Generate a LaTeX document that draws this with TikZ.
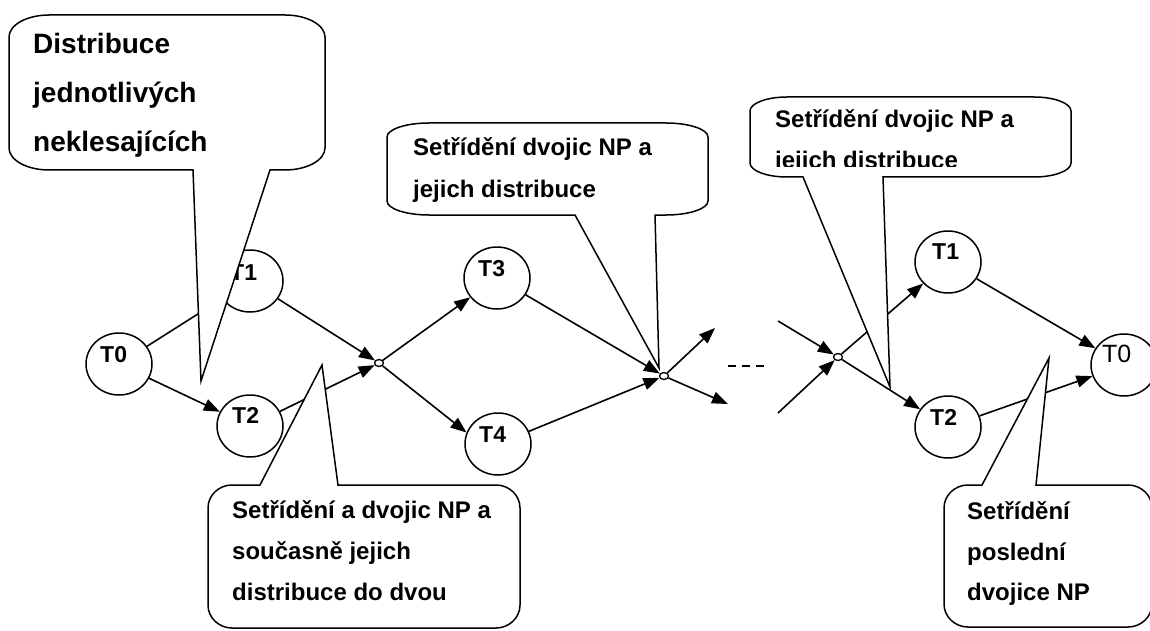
\documentclass[tikz,border=0pt]{standalone}
\usepackage{fontspec}
\setmainfont{Liberation Sans}
\usetikzlibrary{shapes.geometric,arrows.meta}

% rounded callout, tail on the bottom edge:
% #1 x1, #2 y1, #3 x2, #4 y2, #5 rx, #6 ry, #7 tail base left, #8 tail base right, #9 tip
\newcommand\calloutbelow[9]{%
  \filldraw[cbox] ({#1+#5},#2) -- ({#3-#5},#2)
    .. controls ({#3-0.45*#5},#2) and (#3,{#2+0.45*#6}) .. (#3,{#2+#6})
    -- (#3,{#4-#6})
    .. controls (#3,{#4-0.45*#6}) and ({#3-0.45*#5},#4) .. ({#3-#5},#4)
    -- (#8,#4) -- (#9) -- (#7,#4) -- ({#1+#5},#4)
    .. controls ({#1+0.45*#5},#4) and (#1,{#4-0.45*#6}) .. (#1,{#4-#6})
    -- (#1,{#2+#6})
    .. controls (#1,{#2+0.45*#6}) and ({#1+0.45*#5},#2) .. ({#1+#5},#2) -- cycle;}

% rounded callout, tail on the top edge
\newcommand\calloutabove[9]{%
  \filldraw[cbox] ({#1+#5},#2) -- (#7,#2) -- (#9) -- (#8,#2) -- ({#3-#5},#2)
    .. controls ({#3-0.45*#5},#2) and (#3,{#2+0.45*#6}) .. (#3,{#2+#6})
    -- (#3,{#4-#6})
    .. controls (#3,{#4-0.45*#6}) and ({#3-0.45*#5},#4) .. ({#3-#5},#4)
    -- ({#1+#5},#4)
    .. controls ({#1+0.45*#5},#4) and (#1,{#4-0.45*#6}) .. (#1,{#4-#6})
    -- (#1,{#2+#6})
    .. controls (#1,{#2+0.45*#6}) and ({#1+0.45*#5},#2) .. ({#1+#5},#2) -- cycle;}

\tikzset{
  tnode/.style={ellipse, draw, line width=1.5pt, minimum width=66pt, minimum height=62pt, inner sep=0pt},
  tlabel/.style={anchor=base west, inner sep=0pt, font=\fontsize{23}{23}\selectfont\bfseries},
  tlabelreg/.style={anchor=base west, inner sep=0pt, font=\fontsize{25}{25}\selectfont},
  junc/.style={ellipse, draw, fill=white, line width=1.3pt, minimum width=9pt, minimum height=7pt, inner sep=0pt},
  arr/.style={line width=1.6pt, -{Triangle[length=16pt,width=12pt]}},
  dashline/.style={line width=1.3pt, dash pattern=on 8pt off 6pt},
  cbox/.style={draw, fill=white, line width=1.5pt, line join=miter},
  ctext/.style={anchor=base west, inner sep=0pt, font=\fontsize{24}{24}\selectfont\bfseries},
  cbig/.style={anchor=base west, inner sep=0pt, font=\fontsize{28}{28}\selectfont\bfseries}
}

\begin{document}
\begin{tikzpicture}[x=1pt,y=-1pt]
\useasboundingbox (0,0) rectangle (1150,631);
\clip (0,0) rectangle (1150,631);
\fill[white] (0,0) rectangle (1150,631);

% tapes
\node[tnode] (t0) at (119,364) {};
\node[tnode] (t1) at (250,281) {};
\node[tnode] (t2) at (250,426) {};
\node[tnode] (t3) at (497,278) {};
\node[tnode] (t4) at (498,444) {};
\node[tnode] (u1) at (948,262) {};
\node[tnode] (u2) at (948,427) {};
\node[tnode] (u0) at (1124,365) {};

% merge points
\node[junc] (j1) at (379,363) {};
\node[junc] (j2) at (664,376) {};
\node[junc] (j3) at (838,357) {};

% loose ends around the gap
\coordinate (o1) at (715,328);
\coordinate (o2) at (728,404);
\coordinate (i1) at (778,321);
\coordinate (i2) at (778,413);
\coordinate (d1) at (728,366);
\coordinate (d2) at (766,366);

% flow
\draw[arr] (t0) -- (t1);
\draw[arr] (t0) -- (t2);
\draw[arr] (t1) -- (j1);
\draw[arr] (t2) -- (j1);
\draw[arr] (j1) -- (t3);
\draw[arr] (j1) -- (t4.160);
\draw[arr] (t3) -- (j2);
\draw[arr] (t4) -- (j2);
\draw[arr] (j2) -- (o1);
\draw[arr] (j2) -- (o2);
\draw[dashline] (d1) -- (d2);
\draw[arr] (i1) -- (j3);
\draw[arr] (i2) -- (j3);
\draw[arr] (j3) -- (u1);
\draw[arr] (j3) -- (u2);
\draw[arr] (u1) -- (u0);
\draw[arr] (u2) -- (u0);

% tape names
\node[tlabel] (l0) at (100,362) {T0};
\node[tlabel] (l1) at (230,280) {T1};
\node[tlabel] (l2) at (232,423) {T2};
\node[tlabel] (l3) at (478,276) {T3};
\node[tlabel] (l4) at (479,442) {T4};
\node[tlabel] (m1) at (932,259) {T1};
\node[tlabel] (m2) at (930,425) {T2};
\node[tlabelreg] (m0) at (1102,362) {T0};

% callout tips
\coordinate (pa) at (201,381);
\coordinate (pb) at (659,368);
\coordinate (pc) at (890,387);
\coordinate (pd) at (322,365);
\coordinate (pe) at (1049,358);

% callouts
\calloutbelow{9}{15}{325}{170}{40}{22}{193}{270}{pa}
\node[cbig] (ca1) at (33,54) {Distribuce};
\node[cbig] (ca2) at (33,103) {jednotlivých};
\node[cbig] (ca3) at (33,152) {neklesajících};

\calloutbelow{387}{123}{708}{215}{42}{14}{575}{655}{pb}
\node[ctext] (cb1) at (413,156) {Setřídění dvojic NP a};
\node[ctext] (cb2) at (413,197) {jejich distribuce};

\calloutbelow{750}{97}{1071}{177}{37}{14}{803}{883}{pc}
\begin{scope}
  \clip (750,97) rectangle (1071,167);
  \node[ctext] (cc1) at (775,128) {Setřídění dvojic NP a};
  \node[ctext] (cc2) at (775,169) {jejich distribuce};
\end{scope}

\calloutabove{208}{485}{520}{628}{24}{23}{260}{338}{pd}
\node[ctext] (cd1) at (232,518) {Setřídění a dvojic NP a};
\node[ctext] (cd2) at (232,559) {současně jejich};
\node[ctext] (cd3) at (232,600) {distribuce do dvou};

\calloutabove{944}{485}{1152}{627}{24}{23}{982}{1036}{pe}
\node[ctext] (ce1) at (967,519) {Setřídění};
\node[ctext] (ce2) at (967,560) {poslední};
\node[ctext] (ce3) at (967,600) {dvojice NP};
\end{tikzpicture}
\end{document}
